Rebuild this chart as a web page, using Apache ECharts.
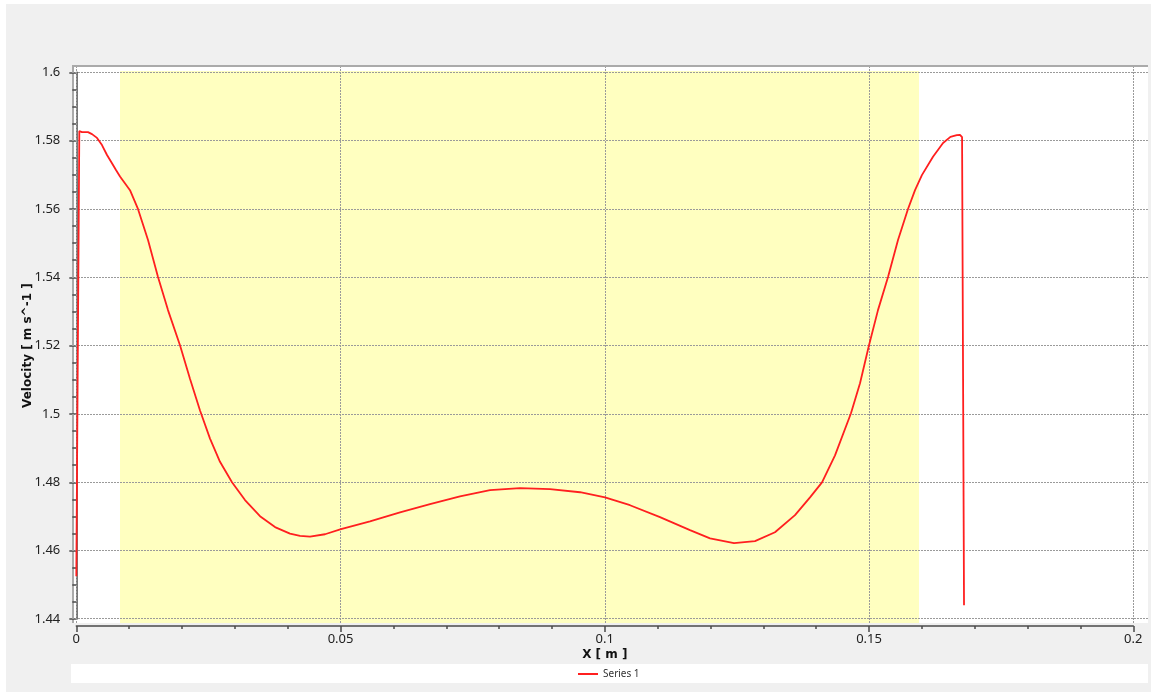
<!DOCTYPE html>
<html>
<head>
<meta charset="utf-8">
<title>Velocity profile</title>
<script src="https://cdn.jsdelivr.net/npm/echarts@6/dist/echarts.min.js"></script>
<style>
  html, body { margin: 0; padding: 0; background: #ffffff; }
  #chart { width: 1153px; height: 692px; }
</style>
</head>
<body>
<div id="chart"></div>
<script>
// Sampled velocity profile along X (m) -> velocity (m s^-1)
const xValues = [
  0.0000, 0.00057, 0.00108, 0.00221, 0.00297, 0.00392, 0.00486, 0.00581,
  0.00675, 0.00751, 0.00827, 0.01016, 0.01167, 0.01357, 0.01546, 0.01735,
  0.01962, 0.02151, 0.02341, 0.02530, 0.02719, 0.02946, 0.03192, 0.03476,
  0.03760, 0.04043, 0.04233, 0.04422, 0.04706, 0.05009, 0.05557, 0.06125,
  0.06693, 0.07260, 0.07828, 0.08395, 0.08963, 0.09531, 0.10004, 0.10477,
  0.11044, 0.11612, 0.11991, 0.12445, 0.12842, 0.13220, 0.13599, 0.13883,
  0.14110, 0.14356, 0.14658, 0.14829, 0.14999, 0.15169, 0.15359, 0.15548,
  0.15737, 0.15870, 0.16000, 0.16210, 0.16400, 0.16540, 0.16660, 0.16720,
  0.16745, 0.16760, 0.16797
];
const velocity = [
  1.4525, 1.5828, 1.5825, 1.5825, 1.5819, 1.5808, 1.5787, 1.5758,
  1.5734, 1.5714, 1.5695, 1.5655, 1.5600, 1.5509, 1.5401, 1.5304,
  1.5201, 1.5103, 1.5010, 1.4928, 1.4860, 1.4800, 1.4748, 1.4701,
  1.4669, 1.4650, 1.4643, 1.4641, 1.4648, 1.4663, 1.4686, 1.4712,
  1.4736, 1.4759, 1.4777, 1.4783, 1.4780, 1.4771, 1.4756, 1.4733,
  1.4698, 1.4660, 1.4636, 1.4622, 1.4628, 1.4654, 1.4704, 1.4756,
  1.4800, 1.4879, 1.5002, 1.5090, 1.5201, 1.5304, 1.5401, 1.5509,
  1.5600, 1.5655, 1.5699, 1.5753, 1.5793, 1.5811, 1.5816, 1.5817,
  1.5822, 1.5810, 1.4440
];

// Axis ticks and gridline positions
const xTicks = [0, 0.05, 0.1, 0.15, 0.2];
const yTicks = [1.44, 1.46, 1.48, 1.5, 1.52, 1.54, 1.56, 1.58, 1.6];
// Highlighted X range (yellow band)
const bandRange = [0.00827, 0.15945];
const seriesName = 'Series 1';

const font = 'Noto Sans';
const titleFont = 'DejaVu Sans';
const axisColor = '#4a4a4a';

const chart = echarts.init(document.getElementById('chart'), null, { renderer: 'canvas' });

const gridMarks = xTicks.map(v => ({ xAxis: v })).concat(yTicks.map(v => ({ yAxis: v })));

const option = {
  animation: false,
  backgroundColor: '#ffffff',
  textStyle: { fontFamily: font },
  graphic: [
    { type: 'rect', z: -20, shape: { x: 6, y: 4, width: 1145, height: 688 }, style: { fill: '#f0f0f0' } },
    { type: 'rect', z: -19, shape: { x: 72, y: 67, width: 1076, height: 556 }, style: { fill: '#ffffff' } },
    { type: 'line', z: -18, shape: { x1: 72, y1: 66, x2: 1148, y2: 66 }, style: { stroke: '#aaaaaa', lineWidth: 2 } },
    { type: 'line', z: -18, shape: { x1: 73, y1: 66, x2: 73, y2: 623 }, style: { stroke: '#aaaaaa', lineWidth: 2 } },
    { type: 'rect', z: -19, shape: { x: 71, y: 664, width: 1077, height: 19 }, style: { fill: '#ffffff' } }
  ],
  grid: [
    // full white plotting panel
    { left: 72, top: 67, width: 1076, height: 556, containLabel: false },
    // data frame for the axes
    { left: 76.3, top: 72.3, width: 1057, height: 546.7, containLabel: false }
  ],
  xAxis: [
    {
      type: 'value', gridIndex: 0, min: -0.000814, max: 0.202781, show: false,
      splitLine: { show: false }
    },
    {
      type: 'value', gridIndex: 1, min: 0, max: 0.2, interval: 0.05, offset: 7,
      name: 'X [ m ]', nameLocation: 'middle', nameGap: 23, nameMoveOverlap: false,
      nameTextStyle: { fontFamily: titleFont, fontWeight: 'bold', fontSize: 12, color: '#111' },
      axisLine: { show: true, lineStyle: { color: axisColor, width: 1.5 } },
      axisTick: { show: true, length: 6, lineStyle: { color: axisColor, width: 1.5 } },
      minorTick: { show: true, splitNumber: 5, length: 3, lineStyle: { color: axisColor, width: 1.5 } },
      axisLabel: { margin: 7, fontFamily: font, fontSize: 13, color: '#222' },
      splitLine: { show: false }
    }
  ],
  yAxis: [
    {
      type: 'value', gridIndex: 0, min: 1.43874, max: 1.60155, show: false,
      splitLine: { show: false }
    },
    {
      type: 'value', gridIndex: 1, min: 1.44, max: 1.6, interval: 0.02, offset: 6,
      name: 'Velocity [ m s^-1 ]', nameLocation: 'middle', nameGap: 36, nameMoveOverlap: false,
      nameTextStyle: { fontFamily: titleFont, fontWeight: 'bold', fontSize: 12, color: '#111' },
      axisLine: { show: true, lineStyle: { color: axisColor, width: 1.5 } },
      axisTick: { show: true, length: 7, lineStyle: { color: axisColor, width: 1.5 } },
      minorTick: { show: true, splitNumber: 4, length: 4, lineStyle: { color: axisColor, width: 1.5 } },
      axisLabel: { margin: 10, fontFamily: font, fontSize: 13, color: '#222' },
      splitLine: { show: false }
    }
  ],
  legend: {
    data: [seriesName],
    left: 578, top: 669, padding: 0,
    icon: 'rect', itemWidth: 20, itemHeight: 2, itemGap: 10,
    textStyle: { fontFamily: font, fontSize: 10, color: '#333' }
  },
  series: [
    {
      // panel decorations: highlighted band and dotted gridlines
      type: 'line', name: 'panel', xAxisIndex: 0, yAxisIndex: 0,
      data: [], silent: true, z: 1,
      markArea: {
        silent: true,
        itemStyle: { color: '#ffffc0' },
        data: [[{ xAxis: bandRange[0], yAxis: 1.6004 }, { xAxis: bandRange[1], yAxis: 1.43874 }]]
      },
      markLine: {
        silent: true, symbol: 'none',
        label: { show: false },
        lineStyle: { type: [2, 1], color: '#9a9a9a', width: 1 },
        data: gridMarks
      }
    },
    {
      type: 'line', name: seriesName, xAxisIndex: 1, yAxisIndex: 1,
      data: xValues.map((x, i) => [x, velocity[i]]),
      showSymbol: false, symbol: 'none', smooth: false, z: 5,
      lineStyle: { color: '#ff1f1f', width: 1.8 },
      itemStyle: { color: '#ff1f1f' }
    }
  ]
};

chart.setOption(option);
</script>
</body>
</html>
